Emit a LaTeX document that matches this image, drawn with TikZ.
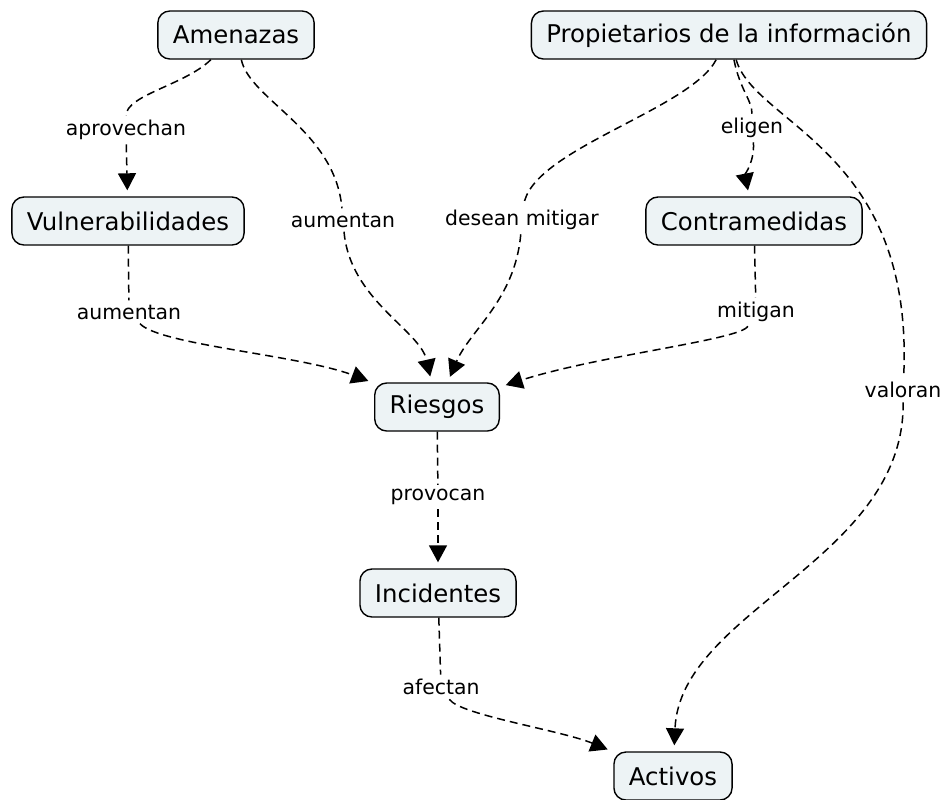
\documentclass[tikz,border=0pt]{standalone}
\usepackage{fontspec}
\setmainfont{DejaVu Sans}
\usetikzlibrary{arrows.meta}
\definecolor{conceptfill}{HTML}{EDF3F5}

\begin{document}
\begin{tikzpicture}
  [x=0.5pt,y=-0.5pt,
   concept/.style={draw,rounded corners=6pt,fill=conceptfill,line width=0.7pt,
     minimum height=24pt,inner xsep=7.5pt,font=\fontsize{12.2}{14}\selectfont},
   phrase/.style={inner sep=2pt,font=\fontsize{10.2}{12}\selectfont},
   link/.style={dash pattern=on 4pt off 2.5pt,line width=0.75pt},
   tip/.style={-{Triangle[length=8.5pt,width=9pt]},shorten >=3pt}]
  \useasboundingbox (0,0) rectangle (946,799);
  % concepts
  \node[concept] (amen) at (236,35) {Amenazas};
  \node[concept] (prop) at (729,35) {Propietarios de la información};
  \node[concept] (vuln) at (128,221) {Vulnerabilidades};
  \node[concept] (contra) at (754,221) {Contramedidas};
  \node[concept] (ries) at (437,407) {Riesgos};
  \node[concept] (inc) at (438,593) {Incidentes};
  \node[concept] (act) at (673,776) {Activos};
  % linking phrases
  \node[phrase] (aprov) at (126,130) {aprovechan};
  \node[phrase] (aum1) at (343,220) {aumentan};
  \node[phrase] (desean) at (522,220) {desean mitigar};
  \node[phrase] (eligen) at (752,128) {eligen};
  \node[phrase] (aum2) at (129,312) {aumentan};
  \node[phrase] (mitig) at (756,312) {mitigan};
  \node[phrase] (valor) at (903,390) {valoran};
  \node[phrase] (provoc) at (438,497) {provocan};
  \node[phrase] (afect) at (441,687) {afectan};
  % straight links
  \foreach \from/\to in {vuln/aum2,contra/mitig,ries/provoc,inc/afect}
    \draw[link] (\from) -- (\to);
  \foreach \from/\to in {aprov/vuln,provoc/inc}
    \draw[link,tip] (\from) -- (\to);
  % curved links
  \draw[link] (amen) .. controls (185,85) and (126,95) .. (aprov);
  \draw[link] (amen) .. controls (250,100) and (335,130) .. (aum1);
  \draw[link,tip] (aum1) .. controls (350,300) and (420,330) .. (ries);
  \draw[link] (prop) .. controls (690,110) and (530,150) .. (desean);
  \draw[link,tip] (desean) .. controls (515,300) and (470,330) .. (ries);
  \draw[link] (prop) .. controls (740,90) and (752,100) .. (eligen);
  \draw[link,tip] (eligen) .. controls (755,160) and (745,175) .. (contra);
  \draw[link] (prop) .. controls (755,125) and (915,150) .. (valor);
  \draw[link,tip] (valor) .. controls (905,560) and (680,610) .. (act);
  \draw[link,tip] (aum2) .. controls (160,345) and (300,355) .. (ries);
  \draw[link,tip] (mitig) .. controls (740,340) and (600,355) .. (ries);
  \draw[link,tip] (afect) .. controls (460,715) and (560,730) .. (act);
\end{tikzpicture}
\end{document}
